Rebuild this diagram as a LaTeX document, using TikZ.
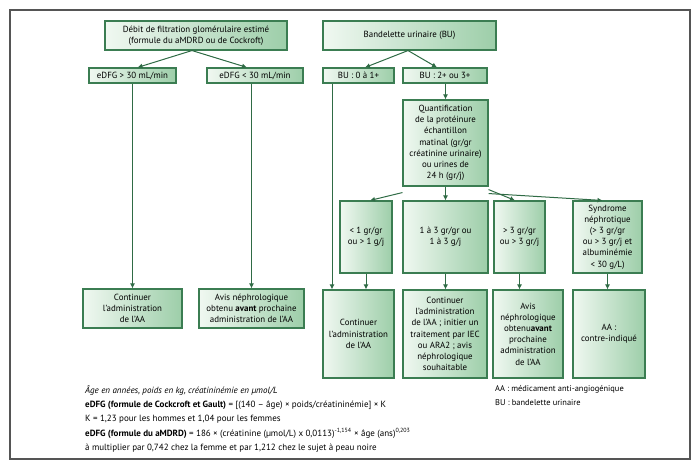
\documentclass[tikz,border=0pt]{standalone}
\usepackage{fontspec}
\setmainfont{PT Sans}
\usetikzlibrary{arrows.meta}
\definecolor{boxline}{HTML}{3B7D52}
\definecolor{boxL}{HTML}{F0F8F1}
\definecolor{boxR}{HTML}{9DCEA9}
\definecolor{arrcol}{HTML}{2F6B45}
\definecolor{framecol}{HTML}{555555}
\begin{document}
\begin{tikzpicture}[x=1pt,y=-1pt,
  box/.style={draw=boxline, line width=1.1pt, left color=boxL, right color=boxR,
    align=center, inner sep=1pt, font=\fontsize{8.9}{11.2}\selectfont},
  arr/.style={draw=arrcol, line width=1pt, -{Latex[length=5pt,width=5pt]}},
  notes/.style={align=left, inner sep=0pt, font=\fontsize{9}{14.4}\selectfont}
]
\useasboundingbox (0,0) rectangle (700,468);
\draw[framecol, line width=1.3pt] (10,10) rectangle (690,459);

% top row
\node[box, minimum width=182pt, minimum height=29pt] (dfg) at (196,35.5)
  {Débit de filtration glomérulaire estimé\\(formule du aMDRD ou de Cockroft)};
\node[box, minimum width=173pt, minimum height=29pt] (bu) at (409.5,35.5)
  {Bandelette urinaire (BU)};

% second row
\node[box, minimum width=87pt, minimum height=15pt] (e1) at (132.5,75.5) {eDFG > 30 mL/min};
\node[box, minimum width=96pt, minimum height=15pt] (e2) at (255,75.5) {eDFG < 30 mL/min};
\node[box, minimum width=71pt, minimum height=15pt] (b1) at (358.5,75.5) {BU : 0 à 1+};
\node[box, minimum width=84pt, minimum height=15pt] (b2) at (445,75.5) {BU : 2+ ou 3+};

% quantification
\node[box, minimum width=85pt, minimum height=86pt] (q) at (445.5,143)
  {Quantification\\de la protéinure\\échantillon\\matinal (gr/gr\\créatinine urinaire)\\ou urines de\\24 h (gr/j)};

% results row
\node[box, minimum width=52pt, minimum height=72pt] (r1) at (366,237) {< 1 gr/gr\\ou > 1 g/j};
\node[box, minimum width=85pt, minimum height=72pt] (r2) at (445.5,237) {1 à 3 gr/gr ou\\1 à 3 g/j};
\node[box, minimum width=51pt, minimum height=72pt] (r3) at (519.5,237) {> 3 gr/gr\\ou > 3 gr/j};
\node[box, minimum width=69pt, minimum height=72pt] (r4) at (607.5,237)
  {Syndrome\\néphrotique\\(> 3 gr/gr\\ou > 3 gr/j et\\albuminémie\\< 30 g/L)};

% bottom left
\node[box, minimum width=99pt, minimum height=39pt] (c1) at (132.5,308.5)
  {Continuer\\l’administration\\de l’AA};
\node[box, minimum width=105pt, minimum height=39pt] (c2) at (251.5,308.5)
  {Avis néphrologique\\obtenu \textbf{avant} prochaine\\administration de l’AA};

% bottom right
\node[box, minimum width=71pt, minimum height=88pt] (d1) at (358.5,334)
  {Continuer\\l’administration\\de l’AA};
\node[box, minimum width=84pt, minimum height=88pt] (d2) at (445,334)
  {Continuer\\l’administration\\de l’AA ; initier un\\traitement par IEC\\ou ARA2 ; avis\\néphrologique\\souhaitable};
\node[box, minimum width=70pt, minimum height=88pt] (d3) at (528,334)
  {Avis\\néphrologique\\obtenu\textbf{avant}\\prochaine\\administration\\de l’AA};
\node[box, minimum width=72pt, minimum height=88pt] (d4) at (609,334)
  {AA :\\contre-indiqué};

% arrows
\draw[arr] ([xshift=-4pt]dfg.south) -- ([xshift=5pt]e1.north);
\draw[arr] ([xshift=-4pt]dfg.south) -- ([xshift=-8pt]e2.north);
\draw[arr] ([xshift=-1.5pt]bu.south) -- ([xshift=6.5pt]b1.north);
\draw[arr] ([xshift=-1.5pt]bu.south) -- ([xshift=-8pt]b2.north);
\draw[arr] (e1.south) -- (c1.north);
\draw[arr] (c2.north |- e2.south) -- (c2.north);
\draw[arr] ([xshift=-26.5pt]b1.south) -- ([xshift=-26.5pt]b1.south |- d1.north);
\draw[arr] (q.north |- b2.south) -- (q.north);
\draw[arr] ([yshift=-6pt]q.south west) -- ([xshift=4pt]r1.north);
\draw[arr] (q.south) -- (r2.north);
\draw[arr] ([yshift=-3pt]q.south east) -- ([xshift=-4.5pt]r3.north);
\draw[arr] ([yshift=-7pt]q.south east) -- ([xshift=-5pt]r4.north);
\draw[arr] (r1.south) -- (r1.south |- d1.north);
\draw[arr] (r2.south) -- (r2.south |- d2.north);
\draw[arr] (r3.south) -- (r3.south |- d3.north);
\draw[arr] (r4.south) -- (r4.south |- d4.north);

% notes
\node[notes, anchor=north west] (formulas) at (85,385)
  {\textit{Âge en années, poids en kg, créatininémie en µmol/L}\\
   \textbf{eDFG (formule de Cockcroft et Gault)} = [(140 – âge) × poids/créatininémie] × K\\
   K = 1,23 pour les hommes et 1,04 pour les femmes\\
   \textbf{eDFG (formule du aMDRD)} = 186 × (créatinine (µmol/L) x 0,0113)\textsuperscript{-1,154} × âge (ans)\textsuperscript{0,203}\\
   à multiplier par 0,742 chez la femme et par 1,212 chez le sujet à peau noire};
\node[notes, anchor=north west, font=\fontsize{8.4}{14.4}\selectfont] (legend) at (495,385)
  {AA : médicament anti-angiogénique\\BU : bandelette urinaire};
\end{tikzpicture}
\end{document}
